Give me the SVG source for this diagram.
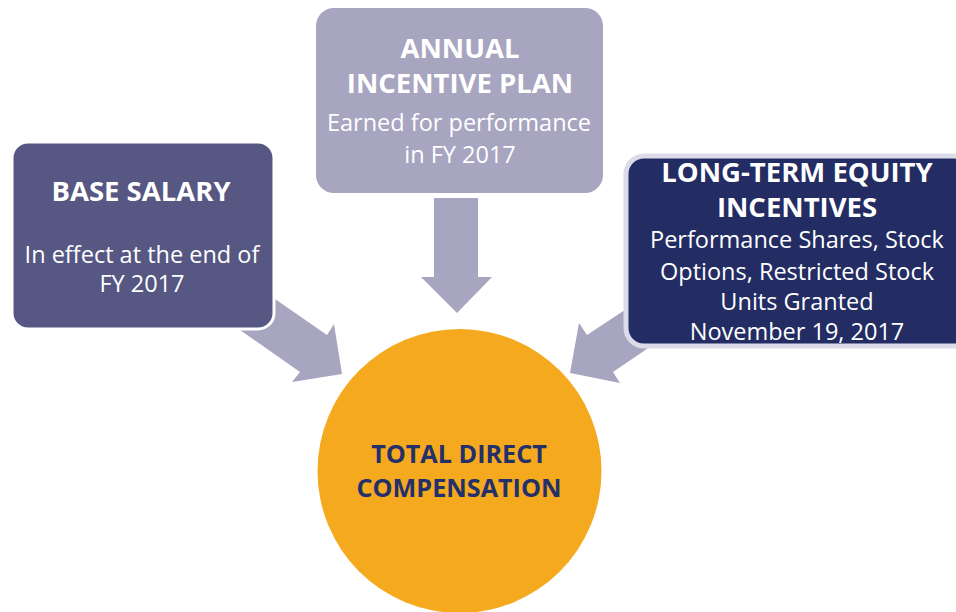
<svg xmlns="http://www.w3.org/2000/svg" width="956" height="612" viewBox="0 0 956 612">
<style>
.arrow{fill:#a7a5bf;}
.t{font-family:"Open Sans","Noto Sans","Liberation Sans",sans-serif;text-anchor:middle;}
.w{fill:#ffffff;}
.b{font-weight:bold;font-size:27.5px;}
.r{font-weight:normal;font-size:23.5px;}
.n{fill:#23306a;font-weight:bold;font-size:25.2px;}
</style>
<rect width="956" height="612" fill="#ffffff"/>
<g id="connectors">
<polygon class="arrow" points="262,290 327,335 334,324 342,374 292,382 300,372 240,330"/>
<polygon class="arrow" points="434,198 478,198 478,277 492,277 457,313 421,277 434,277"/>
<polygon class="arrow" points="640,300 587,335 579,323 570,373 620,383 613,372 660,340"/>
</g>
<g id="base-salary">
<rect x="12" y="142" width="262" height="187" rx="16" fill="#565782" stroke="#ffffff" stroke-width="3"/>
<text class="t w b" x="141" y="201">BASE SALARY</text>
<text class="t w r" x="142" y="263">In effect at the end of</text>
<text class="t w r" x="142" y="292">FY 2017</text>
</g>
<g id="annual-incentive-plan">
<rect x="316" y="8" width="287" height="185" rx="18" fill="#a7a5bf"/>
<text class="t w b" x="460" y="58">ANNUAL</text>
<text class="t w b" x="460" y="93">INCENTIVE PLAN</text>
<text class="t w r" x="459" y="131">Earned for performance</text>
<text class="t w r" x="460" y="163">in FY 2017</text>
</g>
<g id="long-term-equity-incentives">
<rect x="626" y="156" width="345" height="190" rx="18" fill="#232c63" stroke="#dcdbe9" stroke-width="5"/>
<text class="t w b" x="797" y="182">LONG-TERM EQUITY</text>
<text class="t w b" x="797" y="217">INCENTIVES</text>
<text class="t w r" x="797" y="248">Performance Shares, Stock</text>
<text class="t w r" x="797" y="280">Options, Restricted Stock</text>
<text class="t w r" x="797" y="310">Units Granted</text>
<text class="t w r" x="797" y="340">November 19, 2017</text>
</g>
<g id="total-direct-compensation">
<circle cx="459.5" cy="471" r="142" fill="#f5a91f"/>
<text class="t n" x="459" y="463">TOTAL DIRECT</text>
<text class="t n" x="459" y="497">COMPENSATION</text>
</g>
</svg>
